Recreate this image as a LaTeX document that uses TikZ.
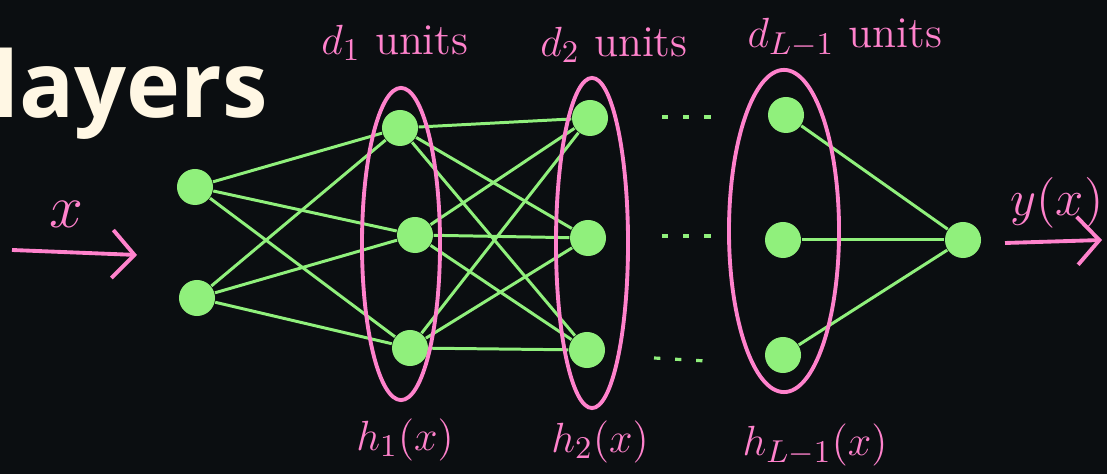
\documentclass[tikz,border=0pt]{standalone}
\usepackage{fontspec}
\newfontfamily\titlefont{Open Sans}
\usepackage{xcolor}
\usepackage{tikz}
\usetikzlibrary{positioning, arrows.meta, shapes.geometric, calc}
\definecolor{board}{HTML}{0B0E11}
\definecolor{chalkgreen}{HTML}{90F07C}
\definecolor{chalkpink}{HTML}{FF82CC}
\definecolor{cream}{HTML}{FFF7E4}
\pgfdeclarelayer{board}
\pgfdeclarelayer{edges}
\pgfsetlayers{board,edges,main}

\begin{document}
\begin{tikzpicture}[
    x=0.01cm, y=-0.01cm,
    unit/.style={circle, fill=chalkgreen, minimum size=0.36cm, inner sep=0pt},
    wire/.style={draw=chalkgreen, line width=0.85pt},
    group/.style={ellipse, draw=chalkpink, line width=1.1pt, inner sep=0pt},
    hand/.style={text=chalkpink, inner sep=0pt},
    gap/.style={draw=chalkgreen, line width=0.9pt, dash pattern=on 1.8pt off 4.2pt},
    flow/.style={draw=chalkpink, line width=1.1pt, -{Straight Barb[length=2.2mm, width=4.8mm]}},
]
\begin{pgfonlayer}{board}
\fill[board] (0,0) rectangle (1107,474);
\end{pgfonlayer}
\useasboundingbox (0,0) rectangle (1107,474);
\clip (0,0) rectangle (1107,474);

\node[anchor=base west, inner sep=0pt, text=cream, font=\titlefont\bfseries\fontsize{26}{29}\selectfont] (title) at (-9,118) {layers};

% units
\node[unit] (in1) at (195,187) {};
\node[unit] (in2) at (197,298) {};
\node[unit] (a1) at (400,128) {};
\node[unit] (a2) at (415,235) {};
\node[unit] (a3) at (410,348) {};
\node[unit] (b1) at (590,118) {};
\node[unit] (b2) at (588,238) {};
\node[unit] (b3) at (587,350) {};
\node[unit] (c1) at (786,115) {};
\node[unit] (c2) at (783,240) {};
\node[unit] (c3) at (783,355) {};
\node[unit] (out) at (963,240) {};

% layer groups
\node[group, minimum width=0.78cm, minimum height=3.12cm] (g1) at (401,244) {};
\node[group, minimum width=0.72cm, minimum height=3.3cm] (g2) at (592,243) {};
\node[group, minimum width=1.1cm, minimum height=3.22cm] (g3) at (784,231) {};

\begin{pgfonlayer}{edges}
\foreach \i in {1,2}
    \foreach \j in {1,2,3}
        \draw[wire] (in\i) -- (a\j);
\foreach \i in {1,2,3}
    \foreach \j in {1,2,3}
        \draw[wire] (a\i) -- (b\j);
\foreach \i in {1,2,3}
    \draw[wire] (c\i) -- (out);
\end{pgfonlayer}

% dots between layers
\coordinate (p1) at (662,117); \coordinate (q1) at (718,117);
\coordinate (p2) at (662,236); \coordinate (q2) at (714,236);
\coordinate (p3) at (654,358); \coordinate (q3) at (706,361);
\draw[gap] (p1) -- (q1);
\draw[gap] (p2) -- (q2);
\draw[gap] (p3) -- (q3);

% labels
\node[hand, font=\fontsize{12.5}{14}\selectfont] (u1) at (395,43) {$d_1$ units};
\node[hand, font=\fontsize{12.5}{14}\selectfont] (u2) at (614,45) {$d_2$ units};
\node[hand, font=\fontsize{12.5}{14}\selectfont] (u3) at (845,38) {$d_{L-1}$ units};
\node[hand, font=\fontsize{13}{15}\selectfont] (h1) at (405,440) {$h_1(x)$};
\node[hand, font=\fontsize{13}{15}\selectfont] (h2) at (600,442) {$h_2(x)$};
\node[hand, font=\fontsize{13}{15}\selectfont] (h3) at (815,445) {$h_{L-1}(x)$};

% input and output
\coordinate (xs) at (12,250);
\coordinate (xe) at (137,255);
\draw[flow] (xs) -- (xe);
\node[hand, font=\fontsize{18}{20}\selectfont] (xl) at (66,214) {$x$};
\coordinate (ys) at (1005,243);
\coordinate (ye) at (1102,240);
\draw[flow] (ys) -- (ye);
\node[hand, font=\fontsize{15}{17}\selectfont] (yl) at (1057,203) {$y(x)$};
\end{tikzpicture}
\end{document}
